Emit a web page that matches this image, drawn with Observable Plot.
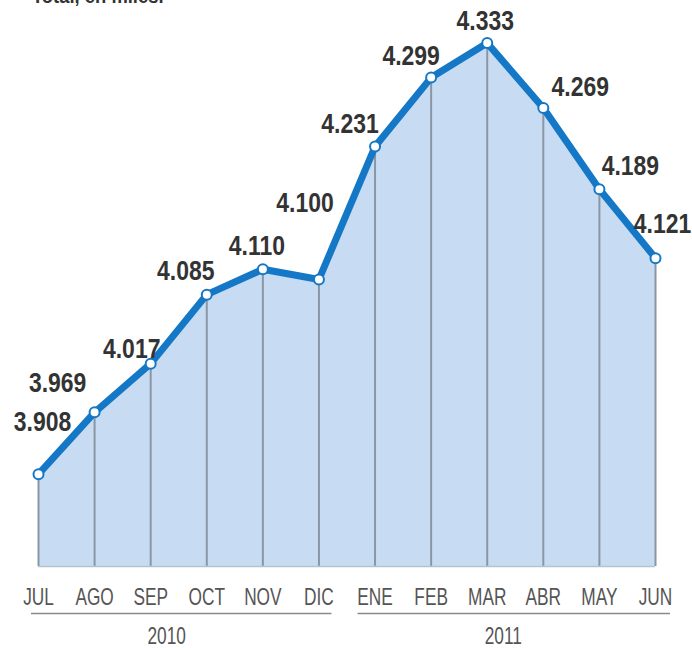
<!DOCTYPE html>
<html>
<head>
<meta charset="utf-8">
<script src="https://cdn.jsdelivr.net/npm/d3@7"></script>
<script src="https://cdn.jsdelivr.net/npm/@observablehq/plot@0.6"></script>
<style>
  body { margin: 0; background: #fff; position: relative; overflow: hidden; width: 692px; height: 648px; }
  #title { position: absolute; top: -15px; left: 32px; font-family: "Liberation Sans", Arial, sans-serif; font-weight: bold; font-size: 20px; color: #333; transform: scaleX(0.92); transform-origin: left top; white-space: nowrap; }
  #chart svg { display: block; font-family: "Liberation Sans", Arial, sans-serif; }
</style>
</head>
<body>
<div id="title">Total, en miles.</div>
<div id="chart"></div>
<script>
const months = ["JUL","AGO","SEP","OCT","NOV","DIC","ENE","FEB","MAR","ABR","MAY","JUN"];
const values = [3908, 3969, 4017, 4085, 4110, 4100, 4231, 4299, 4333, 4269, 4189, 4121];
const years = ["2010", "2011"];
const yearFirstMonth = [0, 6];
const yearLastMonth = [5, 11];
const baseline = 3817;

// label placement (offsets from each point, in px)
const labelOffsets = [[4,-52],[-37,-29],[-19,-15],[-21,-24],[-6,-23],[-14,-76],[-25,-23],[-20,-22],[-2,-22],[37,-21],[31,-23],[7,-34]];
const yearInsets = [[-7,-13],[-17,-15]];

const fmt = v => d3.format(",")(v).replace(/,/g, ".");
const data = months.map((m, i) => ({i, month: m, value: values[i], label: fmt(values[i])}));
const yearData = years.map((y, k) => ({year: y, start: yearFirstMonth[k], end: yearLastMonth[k]}));

const blue = "#1578c6";

const labelMarks = data.map((d, i) => Plot.text([d], {
  x: "i", y: "value", text: "label",
  dx: labelOffsets[i][0], dy: labelOffsets[i][1],
  fontSize: 28, fontWeight: "bold", fill: "#333", textAnchor: "middle", lineAnchor: "middle"
}));

const yearRules = yearData.map((d, k) => Plot.ruleY([d], {
  x1: "start", x2: "end", y: () => baseline, dy: 47,
  insetLeft: yearInsets[k][0], insetRight: yearInsets[k][1],
  stroke: "#8a8a8a", strokeWidth: 1.5
}));

const chart = Plot.plot({
  width: 692, height: 648,
  marginTop: 0, marginBottom: 82, marginLeft: 38, marginRight: 37,
  x: {domain: [0, 11], axis: null},
  y: {domain: [baseline, 4375], axis: null},
  marks: [
    Plot.areaY(data, {x: "i", y1: () => baseline, y2: "value", fill: "#c7dcf2"}),
    Plot.ruleX(data, {x: "i", y1: () => baseline, y2: "value", stroke: "#8b96a4", strokeWidth: 2}),
    Plot.ruleY([baseline], {x1: 0, x2: 11, stroke: "#b5c2d0", strokeWidth: 1.5}),
    Plot.lineY(data, {x: "i", y: "value", stroke: blue, strokeWidth: 7, strokeLinejoin: "round"}),
    Plot.dot(data, {x: "i", y: "value", r: 5, fill: "white", stroke: blue, strokeWidth: 2}),
    ...labelMarks,
    Plot.text(data, {x: "i", y: () => baseline, text: "month", dy: 31, fontSize: 24, fill: "#555", lineAnchor: "middle"}),
    ...yearRules,
    Plot.text(yearData, {x: d => (d.start + d.end) / 2, y: () => baseline, text: "year", dx: -12, dy: 70, fontSize: 24, fill: "#555", lineAnchor: "middle"})
  ]
});

// condense the text horizontally to mimic the narrow newspaper typeface
chart.querySelectorAll("text").forEach(t => {
  const g = t.closest("[font-size]");
  const fs = g ? +g.getAttribute("font-size") : 24;
  const s = fs >= 27 ? 0.82 : 0.72;
  let tr = t.getAttribute("transform");
  if (!tr) {
    const x = t.getAttribute("x") || 0, y = t.getAttribute("y") || 0;
    t.removeAttribute("x"); t.removeAttribute("y");
    tr = `translate(${x},${y})`;
  }
  t.setAttribute("transform", tr + ` scale(${s},1)`);
});

document.getElementById("chart").appendChild(chart);
</script>
</body>
</html>
